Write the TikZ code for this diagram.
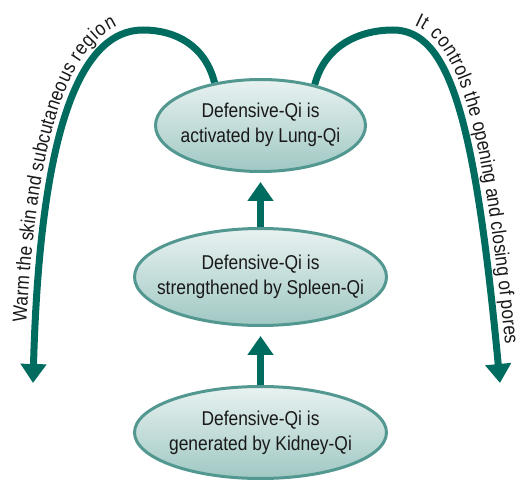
\documentclass[tikz,border=0pt]{standalone}
\usepackage{fontspec}
\setmainfont{Liberation Sans}[FakeStretch=0.87]
\usetikzlibrary{shapes.geometric,arrows.meta,decorations.text,backgrounds}

\definecolor{qiteal}{RGB}{0,108,96}
\definecolor{qirim}{RGB}{82,152,144}
\definecolor{qitop}{RGB}{232,242,241}
\definecolor{qibottom}{RGB}{160,200,195}
\definecolor{qiink}{RGB}{25,25,25}

\newcommand{\qifont}{\fontsize{20}{25}\selectfont}
\newcommand{\qilabel}[2]{\makebox[0pt]{\raisebox{3pt}{\begin{tabular}{@{}c@{}}#1\\#2\end{tabular}}}}

\tikzset{
  qinode/.style={ellipse, draw=qirim, line width=3pt, top color=qitop,
    bottom color=qibottom, inner sep=0pt, font=\qifont, text=qiink},
  qiarrow/.style={draw=qiteal, line width=7pt,
    -{Triangle[width=25pt,length=19pt]}},
  arctext/.style={decorate, decoration={text along path, raise=9pt,
    text color=qiink, text align={left indent=#1}}},
}

\begin{document}
\begin{tikzpicture}[x=1pt,y=-1pt]
%
\useasboundingbox (0,0) rectangle (523,484);
%
% the three sources of Defensive-Qi
\node[qinode, minimum width=210pt, minimum height=92pt] (lung) at (260.5,125.5)
  {\qilabel{Defensive-Qi is}{activated by Lung-Qi}};
\node[qinode, minimum width=252pt, minimum height=97pt] (spleen) at (260.5,277)
  {\qilabel{Defensive-Qi is}{strengthened by Spleen-Qi}};
\node[qinode, minimum width=252pt, minimum height=92pt] (kidney) at (260.5,432.5)
  {\qilabel{Defensive-Qi is}{generated by Kidney-Qi}};
%
\draw[qiarrow, shorten >=9pt] (kidney) -- (spleen);
\draw[qiarrow, shorten >=9pt] (spleen) -- (lung);
%
% the two functions, arcing out of the lung
\coordinate (warmend) at (33,383);
\coordinate (poreend) at (500,383);
\begin{scope}[on background layer]
  \draw[qiarrow] (lung.137) .. controls (205,45) and (175,30) .. (143,30)
    .. controls (80,30) and (40,130) .. (warmend);
  \draw[qiarrow] (lung.37) .. controls (325,45) and (360,30) .. (393,30)
    .. controls (450,30) and (475,120) .. (poreend);
\end{scope}
%
\path[arctext=60pt, decoration={text={|\qifont|Warm the skin and subcutaneous region}}]
  (warmend) .. controls (40,130) and (80,30) .. (143,30)
  .. controls (175,30) and (205,45) .. (lung.137);
\path[arctext=18pt, decoration={text={|\qifont|It controls the opening and closing of pores}}]
  (393,30) .. controls (450,30) and (475,120) .. (poreend);
%
\end{tikzpicture}
\end{document}
